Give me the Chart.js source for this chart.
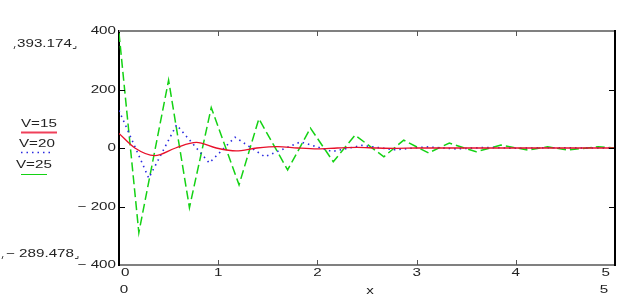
<!DOCTYPE html>
<html>
<head>
<meta charset="utf-8">
<script src="https://cdn.jsdelivr.net/npm/chart.js@4/dist/chart.umd.min.js"></script>
<style>
  html, body { margin: 0; padding: 0; background: #fff; }
  #wrap { position: relative; width: 638px; height: 301px; }
</style>
</head>
<body>
<div id="wrap"><canvas id="plot" width="638" height="301"></canvas></div>
<script>
// ─── Data ────────────────────────────────────────────
var redX   = [0, 0.16, 0.36, 0.57, 0.78, 0.98, 1.18, 1.39, 1.6, 1.8, 2.0, 2.2, 2.4, 2.6, 2.8, 3.0, 3.5, 4.0, 4.5, 5.0];
var redY   = [50, 0, -26, 0, 19, 0, -10, 0, 5, 0, -3, 0, 2, 0, -1, 0, 0, 0, 0, 0];

var blueX  = [0, 0.30, 0.58, 0.91, 1.17, 1.47, 1.83, 2.15, 2.45, 2.78, 3.1, 3.4, 3.7, 4.0, 4.35, 4.7, 5.0];
var blueY  = [128, -103, 79, -51, 37, -30, 21, -12, 9, -6, 4, -3, 2, -1, 1, 0, 0];

var greenX = [0, 0.2, 0.5, 0.71, 0.93, 1.21, 1.41, 1.70, 1.93, 2.16, 2.38, 2.67, 2.87, 3.12, 3.33, 3.6, 3.85, 4.12, 4.32, 4.52, 4.83, 5.0];
var greenY = [393.174, -289.478, 232, -204, 138, -126, 100, -75, 68, -47, 44, -30, 27, -17, 17, -13, 10, -7, 4, -7, 4, 0];

var seriesNames = ['V=15', 'V=20', 'V=25'];
var yTicks = [400, 200, 0, -200, -400];
var xTicks = [0, 1, 2, 3, 4, 5];

function pts(xs, ys) {
  return xs.map(function(x, i) { return { x: x, y: ys[i] }; });
}

var FONT = '11px "Liberation Sans", Arial, sans-serif';
var SX = 1.38; // the old plot's lettering is stretched sideways

// draws text stretched horizontally, returns its drawn width
function wideText(ctx, s, x, y, align) {
  var w = ctx.measureText(s).width * SX;
  var x0 = align === 'right' ? x - w : (align === 'center' ? x - w / 2 : x);
  ctx.save();
  ctx.translate(x0, y);
  ctx.scale(SX, 1);
  ctx.textAlign = 'left';
  ctx.fillText(s, 0, 0);
  ctx.restore();
  return w;
}

function minusFmt(v) { return v < 0 ? '\u2212 ' + Math.abs(v) : String(v); }

// ─── Frame, inner ticks, labels, side notes ──────────
var mathcadDeco = {
  id: 'mathcadDeco',
  afterDraw: function(chart) {
    var ctx = chart.ctx;
    var a = chart.chartArea;
    var xs = chart.scales.x, ys = chart.scales.y;
    ctx.save();

    // top & right frame
    ctx.lineWidth = 2;
    ctx.strokeStyle = '#808080';
    ctx.beginPath(); ctx.moveTo(a.left, a.top); ctx.lineTo(a.right, a.top); ctx.stroke();
    ctx.strokeStyle = '#000';
    ctx.beginPath(); ctx.moveTo(a.right, a.top - 1); ctx.lineTo(a.right, a.bottom + 1); ctx.stroke();

    // inner tick marks
    ctx.lineWidth = 1;
    ctx.strokeStyle = '#000';
    [200, 0, -200].forEach(function(v) {
      var py = Math.round(ys.getPixelForValue(v)) + 0.5;
      ctx.beginPath(); ctx.moveTo(a.left, py); ctx.lineTo(a.left + 6, py); ctx.stroke();
      ctx.beginPath(); ctx.moveTo(a.right, py); ctx.lineTo(a.right - 6, py); ctx.stroke();
    });
    ctx.strokeStyle = '#555';
    [1, 2, 3, 4].forEach(function(v) {
      var px = Math.round(xs.getPixelForValue(v)) + 0.5;
      ctx.beginPath(); ctx.moveTo(px, a.bottom); ctx.lineTo(px, a.bottom - 5); ctx.stroke();
      ctx.beginPath(); ctx.moveTo(px, a.top); ctx.lineTo(px, a.top + 5); ctx.stroke();
    });

    ctx.fillStyle = '#222';
    ctx.font = FONT;
    ctx.textBaseline = 'middle';

    // tick labels
    yTicks.forEach(function(v) {
      wideText(ctx, minusFmt(v), a.left - 3, ys.getPixelForValue(v), 'right');
    });
    xTicks.forEach(function(v, i) {
      var px = xs.getPixelForValue(v);
      var al = i === 0 ? 'left' : (i === xTicks.length - 1 ? 'right' : 'center');
      wideText(ctx, String(v), i === 0 ? px + 2 : (i === xTicks.length - 1 ? px - 5 : px), a.bottom + 8, al);
    });

    // y range limits
    ctx.strokeStyle = '#444';
    var w1 = wideText(ctx, greenY[0].toFixed(3), 17, 44, 'left');
    var w2 = wideText(ctx, minusFmt(+greenY[1].toFixed(3)), 6, 254, 'left');
    ctx.beginPath();
    ctx.moveTo(15, 46); ctx.lineTo(14, 49);
    ctx.moveTo(17 + w1 + 1, 48.5); ctx.lineTo(17 + w1 + 4, 48.5); ctx.lineTo(17 + w1 + 4, 46);
    ctx.moveTo(3, 256); ctx.lineTo(2, 259);
    ctx.moveTo(6 + w2 + 1, 258.5); ctx.lineTo(6 + w2 + 4, 258.5); ctx.lineTo(6 + w2 + 4, 256);
    ctx.stroke();

    // legend (trace labels)
    var ds = chart.data.datasets;
    wideText(ctx, seriesNames[0], 21, 124, 'left');
    wideText(ctx, seriesNames[1], 19, 144, 'left');
    wideText(ctx, seriesNames[2], 16, 165, 'left');
    ctx.strokeStyle = '#f0405a'; ctx.lineWidth = 2.2; ctx.setLineDash([]);
    ctx.beginPath(); ctx.moveTo(21, 132.5); ctx.lineTo(57, 132.5); ctx.stroke();
    ctx.strokeStyle = ds[1].borderColor; ctx.lineWidth = 1.6; ctx.setLineDash(ds[1].borderDash);
    ctx.beginPath(); ctx.moveTo(21, 152.5); ctx.lineTo(51, 152.5); ctx.stroke();
    ctx.strokeStyle = ds[2].borderColor; ctx.lineWidth = 1; ctx.setLineDash([]);
    ctx.beginPath(); ctx.moveTo(21, 174.5); ctx.lineTo(47, 174.5); ctx.stroke();

    // x range limits and axis name
    wideText(ctx, String(xTicks[0]), 124, 290, 'center');
    wideText(ctx, 'x', 370, 291, 'center');
    wideText(ctx, String(xTicks[xTicks.length - 1]), 604, 290, 'center');
    ctx.restore();
  }
};

// ─── Chart ───────────────────────────────────────────
new Chart(document.getElementById('plot').getContext('2d'), {
  type: 'line',
  data: {
    datasets: [
      {
        label: seriesNames[0], data: pts(redX, redY),
        borderColor: '#e8102a', borderWidth: 1.3,
        cubicInterpolationMode: 'monotone', pointRadius: 0, fill: false
      },
      {
        label: seriesNames[1], data: pts(blueX, blueY),
        borderColor: '#2a2ae0', borderWidth: 1.6, borderDash: [1.5, 4],
        tension: 0, pointRadius: 0, fill: false
      },
      {
        label: seriesNames[2], data: pts(greenX, greenY),
        borderColor: '#14d214', borderWidth: 1.5, borderDash: [9, 4],
        tension: 0, pointRadius: 0, fill: false
      }
    ]
  },
  options: {
    responsive: false, animation: false,
    layout: { padding: { top: 31, right: 23, left: 0, bottom: 0 } },
    plugins: { legend: { display: false }, tooltip: { enabled: false } },
    scales: {
      x: {
        type: 'linear', min: 0, max: 5,
        afterBuildTicks: function(s) { s.ticks = xTicks.map(function(v) { return { value: v }; }); },
        afterFit: function(s) { s.height = 36; },
        grid: { display: false },
        border: { color: '#808080', width: 2 },
        ticks: { display: false }
      },
      y: {
        min: -400, max: 400,
        afterBuildTicks: function(s) { s.ticks = yTicks.map(function(v) { return { value: v }; }); },
        afterFit: function(s) { s.width = 119; },
        grid: { display: false },
        border: { color: '#000', width: 2 },
        ticks: { display: false }
      }
    }
  },
  plugins: [mathcadDeco]
});
</script>
</body>
</html>
